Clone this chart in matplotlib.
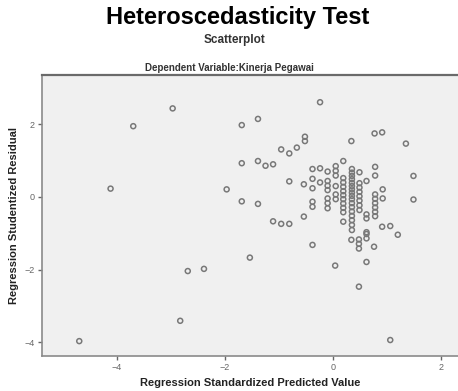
"""Heteroscedasticity test scatterplot (SPSS style)."""
import matplotlib
matplotlib.use("Agg")
import matplotlib.pyplot as plt

plt.rcParams["font.family"] = ["Liberation Sans", "DejaVu Sans"]

# scattered points outside the main cluster
outlier_x = [-4.70, -4.12, -3.70, -2.97, -2.83, -2.69, -2.39, -1.97,
             -1.69, -1.39, -1.69, -1.39, -1.25, -1.11, -1.69, -1.39, -1.54,
             -1.11, -0.96, -0.81, -0.96, -0.81, -0.67, -0.52, -0.52, -0.81,
             -0.24, -0.38, -0.54, -0.54,
             0.04, 0.34, 0.77, 0.91, 1.35, 1.49, 1.49, 0.91, 1.06, 1.20,
             0.48, 1.06, 0.62, 0.76, 0.34, 0.48, 0.48, 0.48, 0.62, 0.62,
             0.92, 0.92]
outlier_y = [-3.97, 0.23, 1.95, 2.44, -3.41, -2.04, -1.98, 0.21,
             1.98, 2.15, 0.93, 0.99, 0.86, 0.90, -0.12, -0.19, -1.67,
             -0.67, -0.74, -0.74, 1.31, 1.20, 1.36, 1.66, 1.54, 0.43,
             2.61, -1.32, 0.35, -0.54,
             -1.89, 1.54, 1.75, 1.78, 1.47, 0.58, -0.07, -0.82, -0.80, -1.04,
             -2.47, -3.94, -1.79, -1.37, -1.18, -1.17, -1.29, -1.42, -1.14, -1.02,
             0.21, -0.04]

# the dense central cluster, column by column
column_x = [-0.38, -0.24, -0.10, 0.05, 0.19, 0.35, 0.49, 0.62, 0.78]
column_y = [
    [0.77, 0.50, 0.24, -0.13, -0.27],
    [0.79, 0.40],
    [0.70, 0.44, 0.31, 0.19, -0.04, -0.17, -0.31],
    [0.85, 0.72, 0.59, 0.30, 0.07, -0.06],
    [0.99, 0.52, 0.40, 0.28, 0.16, 0.05, -0.06, -0.18, -0.30, -0.42, -0.68],
    [0.77, 0.67, 0.58, 0.49, 0.39, 0.30, 0.21, 0.12, 0.03, -0.06, -0.17,
     -0.28, -0.40, -0.52, -0.64, -0.77, -0.91],
    [0.68, 0.38, 0.26, 0.14, 0.02, -0.10, -0.23, -0.36],
    [0.44, -0.48, -0.59, -0.97],
    [0.83, 0.59, 0.07, -0.05, -0.17, -0.29, -0.41, -0.53],
]

x_ticks = [-4, -2, 0, 2]
y_ticks = [-4, -2, 0, 2]

fig = plt.figure(figsize=(4.58, 3.91), dpi=100)
ax = fig.add_axes([0.0917, 0.0895, 0.9083, 0.7187])
ax.set_facecolor("#f0f0f0")

xs = list(outlier_x)
ys = list(outlier_y)
for cx, col in zip(column_x, column_y):
    xs.extend([cx] * len(col))
    ys.extend(col)

ax.scatter(xs, ys, s=13, facecolors="none", edgecolors="#787878", linewidths=1.1)

ax.set_xlim(-5.39, 2.315)
ax.set_ylim(-4.38, 3.36)
ax.set_xticks(x_ticks)
ax.set_yticks(y_ticks)
ax.tick_params(labelsize=6.5, colors="#666666", length=3, width=1, pad=2)

for side in ("left", "bottom"):
    ax.spines[side].set_color("#8a8a8a")
    ax.spines[side].set_linewidth(1.2)
ax.spines["top"].set_color("#6a6a6a")
ax.spines["top"].set_linewidth(1.6)
ax.spines["right"].set_visible(False)

ax.set_xlabel("Regression Standardized Predicted Value", fontsize=8,
              fontweight="bold", color="#222222", labelpad=4)
ax.set_ylabel("Regression Studentized Residual", fontsize=8,
              fontweight="bold", color="#222222", labelpad=4)

fig.text(0.52, 0.955, "Heteroscedasticity Test", ha="center", va="center",
         fontsize=17, fontweight="bold")
fig.text(0.512, 0.898, "Scatterplot", ha="center", va="center",
         fontsize=8.5, fontweight="bold", color="#333333")
fig.text(0.50, 0.826, "Dependent Variable:Kinerja Pegawai", ha="center",
         va="center", fontsize=7, fontweight="bold", color="#333333")

fig.savefig("out.png", dpi=100)
